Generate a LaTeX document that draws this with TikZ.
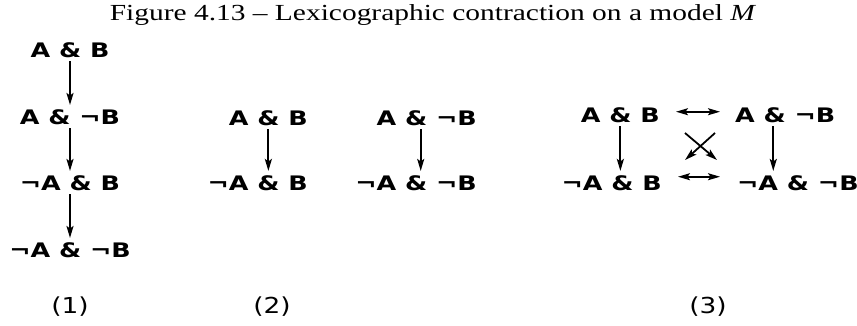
\documentclass[tikz,border=0pt]{standalone}
\usepackage{fontspec}
\usetikzlibrary{arrows.meta,calc}
\newfontfamily\lblfont[FakeStretch=1.27]{DejaVu Sans}
\newfontfamily\numfont[FakeStretch=1.2]{DejaVu Sans}
\newfontfamily\ttlfont[FakeStretch=1.28]{Liberation Serif}
\begin{document}
\begin{tikzpicture}[x=1pt,y=-1pt,
  lbl/.style={font=\lblfont\bfseries\fontsize{20}{22}\selectfont, inner xsep=0pt, inner ysep=4pt},
  num/.style={font=\numfont\fontsize{22}{24}\selectfont, inner sep=0pt},
  ttl/.style={font=\ttlfont\fontsize{23}{25}\selectfont, inner sep=0pt},
  arr/.style={-{Stealth[length=12pt,width=7pt,inset=2.5pt]}, line width=1.8pt},
  darr/.style={{Stealth[length=12pt,width=7pt,inset=2.5pt]}-{Stealth[length=12pt,width=7pt,inset=2.5pt]}, line width=1.8pt}]
\useasboundingbox (0,0) rectangle (857,325);
\node[ttl,anchor=base] (t) at (433,20) {Figure 4.13 – Lexicographic contraction on a model \textit{M}};
% column 1
\node[lbl,anchor=base] (p1) at (70,57) {A \& B};
\node[lbl,anchor=base] (p2) at (70,124) {A \& ¬B};
\node[lbl,anchor=base] (p3) at (70,190) {¬A \& B};
\node[lbl,anchor=base] (p4) at (70,257) {¬A \& ¬B};
\draw[arr] (p1.south) -- (p1.south |- p2.north);
\draw[arr] (p2.south) -- (p2.south |- p3.north);
\draw[arr] (p3.south) -- (p3.south |- p4.north);
% column 2
\node[lbl,anchor=base east] (q1) at (308,125) {A \& B};
\node[lbl,anchor=base east] (q2) at (308,190) {¬A \& B};
\node[lbl,anchor=base east] (q3) at (477,125) {A \& ¬B};
\node[lbl,anchor=base east] (q4) at (477,190) {¬A \& ¬B};
\draw[arr] (q1.south) -- (q1.south |- q2.north);
\draw[arr] ([xshift=-6pt]q3.south) -- ([xshift=-6pt]q3.south |- q4.north);
% column 3
\node[lbl,anchor=base east] (r1) at (660,122) {A \& B};
\node[lbl,anchor=base west] (r2) at (735,122) {A \& ¬B};
\node[lbl,anchor=base east] (r3) at (662,190) {¬A \& B};
\node[lbl,anchor=base west] (r4) at (737,190) {¬A \& ¬B};
\draw[arr] (r1.south) -- (r1.south |- r3.north);
\draw[arr] ([xshift=-12pt]r2.south) -- ([xshift=-12pt]r2.south |- r4.north);
\draw[darr] ($(r1.east)+(16,-3)$) -- ($(r1.east -| r2.west)+(-15,-3)$);
\draw[darr] ($(r3.east)+(16,-6)$) -- ($(r3.east -| r4.west)+(-17,-6)$);
\coordinate (x1) at (685,133);
\coordinate (x2) at (717,160);
\coordinate (x3) at (715,133);
\coordinate (x4) at (685,160);
\draw[arr] (x1) -- (x2);
\draw[arr] (x3) -- (x4);
% numbers
\node[num,anchor=base] (n1) at (70,313) {(1)};
\node[num,anchor=base] (n2) at (272,313) {(2)};
\node[num,anchor=base] (n3) at (708,313) {(3)};
\end{tikzpicture}
\end{document}
